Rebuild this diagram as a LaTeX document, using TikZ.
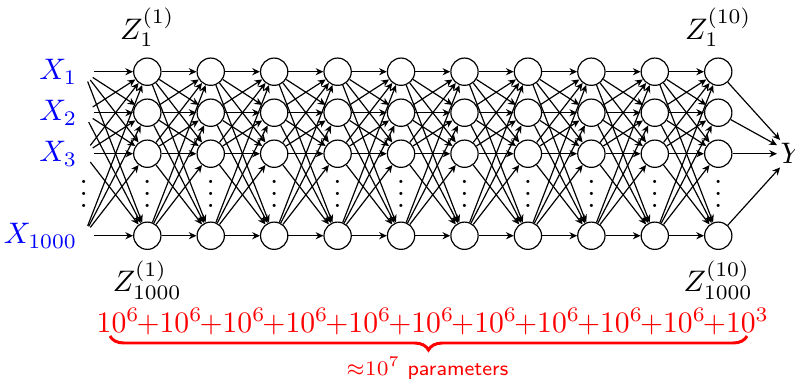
\documentclass[tikz,border=0pt]{standalone}
\usepackage{amsmath}
\usetikzlibrary{arrows.meta,positioning,decorations.pathreplacing}
\tikzset{
  >={Stealth[length=2.6pt,width=2.4pt]},
  neuron/.style={circle,draw,line width=0.4pt,minimum size=9.2pt,inner sep=0pt},
  inp/.style={circle,minimum size=6.7pt,inner sep=0pt},
  xlab/.style={text=blue,inner sep=0pt,label distance=-1.5pt},
  dots/.style={anchor=base,inner sep=0pt},
  con/.style={->,line width=0.4pt},
  brc/.style={red,line width=1pt,decorate,decoration={brace,mirror,amplitude=4.7pt}},
}
\newcommand{\pl}{\mkern-1mu{+}}

\begin{document}
\begin{tikzpicture}[x=21.38pt,y=13.82pt]
\useasboundingbox (-1.322,-7.495) rectangle (11.21,1.749);
% input column
\foreach \r/\yy/\t in {1/0/1,2/-1/2,3/-2/3,4/-4/1000}
  \node[inp,label={[xlab]left:$X_{\t}$}] (x\r) at (0,\yy) {};
\node[dots] (xd) at (0,-3.31) {$\vdots$};
% ten hidden layers
\foreach \c in {1,...,10}{
  \foreach \r/\yy in {1/0,2/-1,3/-2,4/-4}
    \node[neuron] (n\c-\r) at (\c,\yy) {};
  \node[dots] (d\c) at (\c,-3.31) {$\vdots$};
}
\node[above] (z1t) at (n1-1.north) {$Z_1^{(1)}$};
\node[below] (z1b) at (n1-4.south) {$Z_{1000}^{(1)}$};
\node[above] (z10t) at (n10-1.north) {$Z_1^{(10)}$};
\node[below] (z10b) at (n10-4.south) {$Z_{1000}^{(10)}$};
\node[anchor=west,inner sep=1pt] (y) at (10.926,-2) {$Y$};
% connections
\foreach \r in {1,...,4}{
  \foreach \s in {1,...,4}{
    \draw[con] (x\r) -- (n1-\s);
    \foreach \c in {1,...,9}{
      \pgfmathtruncatemacro\d{\c+1}
      \draw[con] (n\c-\r) -- (n\d-\s);
    }
  }
  \draw[con] (n10-\r) -- (y);
}
% parameter count
\node[anchor=base,text=red,inner sep=0pt] (sum) at (5.49,-6.35)
  {\scriptspace=0pt$10^6\pl10^6\pl10^6\pl10^6\pl10^6\pl10^6\pl10^6\pl10^6\pl10^6\pl10^6\pl10^3$};
\coordinate (bl) at (0.412,-6.446);
\coordinate (br) at (10.453,-6.446);
\draw[brc] (bl) -- (br);
\node[anchor=base,text=red,inner sep=0pt,font=\sffamily\scriptsize] (npar) at (5.414,-7.398) {${\approx}10^7$ parameters};
\end{tikzpicture}
\end{document}
